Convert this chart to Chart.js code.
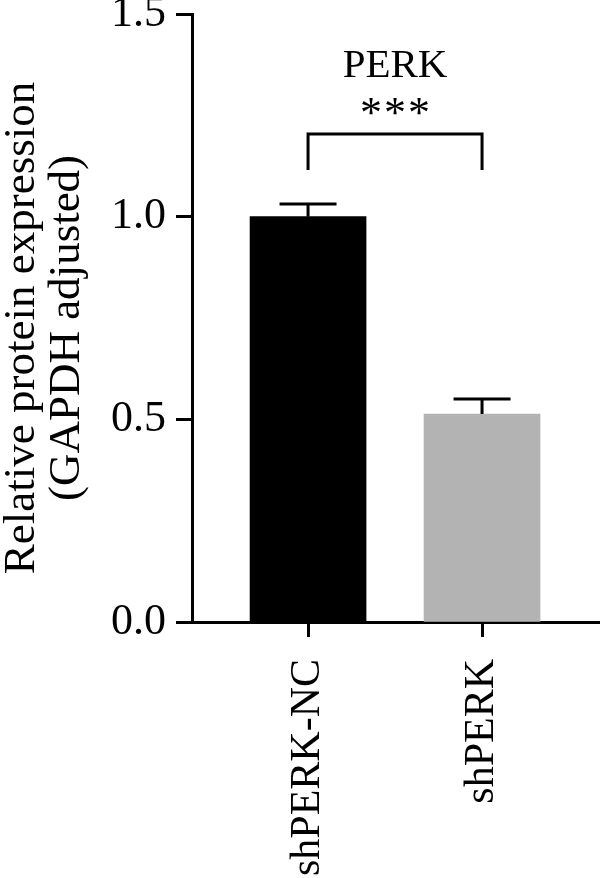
<!DOCTYPE html>
<html>
<head>
<meta charset="utf-8">
<script src="https://cdn.jsdelivr.net/npm/chart.js@4.4.1/dist/chart.umd.min.js"></script>
<style>
  html, body { margin: 0; padding: 0; background: #fff; }
  #wrap { width: 600px; height: 878px; }
</style>
</head>
<body>
<div id="wrap"><canvas id="c" width="600" height="878"></canvas></div>
<script>
const categories = ['shPERK-NC', 'shPERK'];
const means = [1.0, 0.513];
const errors = [0.031, 0.037];
const barColors = ['#000000', '#b3b3b3'];
const yTicks = [0, 0.5, 1.0, 1.5];
const yTitle = ['Relative protein expression', '(GAPDH adjusted)'];
const panelTitle = 'PERK';
const significance = '***';

const FONT = "'Liberation Serif', 'Times New Roman', serif";

const annotate = {
  id: 'annotate',
  afterDatasetsDraw(chart) {
    const {ctx, scales: {x, y}} = chart;
    ctx.save();
    ctx.strokeStyle = '#000';
    ctx.lineWidth = 3;
    ctx.lineCap = 'butt';
    // error bars (upper only)
    means.forEach((m, i) => {
      const cx = x.getPixelForValue(i);
      const yTop = y.getPixelForValue(m);
      const yErr = y.getPixelForValue(m + errors[i]);
      ctx.beginPath();
      ctx.moveTo(cx, yTop);
      ctx.lineTo(cx, yErr);
      ctx.moveTo(cx - 28.5, yErr);
      ctx.lineTo(cx + 28.5, yErr);
      ctx.stroke();
    });
    // significance bracket
    const x0 = x.getPixelForValue(0), x1 = x.getPixelForValue(1);
    const yb = y.getPixelForValue(1.204), yl = y.getPixelForValue(1.115);
    ctx.beginPath();
    ctx.moveTo(x0, yl);
    ctx.lineTo(x0, yb);
    ctx.lineTo(x1, yb);
    ctx.lineTo(x1, yl);
    ctx.stroke();
    // stars
    ctx.fillStyle = '#000';
    ctx.font = '44px ' + FONT;
    ctx.textAlign = 'center';
    ctx.textBaseline = 'alphabetic';
    const mid = (x0 + x1) / 2;
    const sy = y.getPixelForValue(1.222);
    const chars = significance.split('');
    chars.forEach((ch, k) => {
      ctx.fillText(ch, mid + (k - (chars.length - 1) / 2) * 24, sy);
    });
    // title
    ctx.font = '41px ' + FONT;
    ctx.fillText(panelTitle, mid, y.getPixelForValue(1.345));
    // y-axis title (two lines, rotated)
    ctx.font = '45px ' + FONT;
    ctx.textBaseline = 'middle';
    ctx.translate(22.5, 328);
    ctx.rotate(-Math.PI / 2);
    yTitle.forEach((line, k) => ctx.fillText(line, 0, k * 45));
    ctx.restore();
  }
};

new Chart(document.getElementById('c'), {
  type: 'bar',
  data: {
    datasets: [{
      data: means.map((v, i) => ({x: i, y: v})),
      backgroundColor: barColors,
      borderWidth: 0,
      barThickness: 116
    }]
  },
  options: {
    responsive: false,
    animation: false,
    layout: { autoPadding: false, padding: { top: 14, left: 0, right: 0, bottom: 0 } },
    plugins: { legend: { display: false }, tooltip: { enabled: false } },
    scales: {
      x: {
        type: 'linear',
        offset: false,
        min: -0.667,
        max: 1.678,
        afterBuildTicks: s => { s.ticks = categories.map((_, i) => ({value: i})); },
        afterFit: s => { s.height = 256; s.paddingLeft = 0; s.paddingRight = 0; },
        border: { display: true, color: '#000', width: 3 },
        grid: { display: true, offset: false, drawOnChartArea: false, drawTicks: true, tickLength: 15, tickWidth: 3, tickColor: '#000' },
        ticks: {
          autoSkip: false,
          minRotation: 90,
          maxRotation: 90,
          padding: 22,
          color: '#000',
          font: { family: FONT, size: 42 },
          callback: v => categories[v]
        }
      },
      y: {
        type: 'linear',
        min: 0,
        max: 1.5,
        afterBuildTicks: s => { s.ticks = yTicks.map(v => ({value: v})); },
        afterFit: s => { s.width = 192; s.paddingTop = 0; s.paddingBottom = 0; },
        border: { display: true, color: '#000', width: 3 },
        grid: { display: true, drawOnChartArea: false, drawTicks: true, tickLength: 16, tickWidth: 3, tickColor: '#000' },
        ticks: {
          padding: 10,
          color: '#000',
          font: { family: FONT, size: 44 },
          callback: v => Number(v).toFixed(1)
        },
        title: { display: false }
      }
    }
  },
  plugins: [annotate]
});
</script>
</body>
</html>
